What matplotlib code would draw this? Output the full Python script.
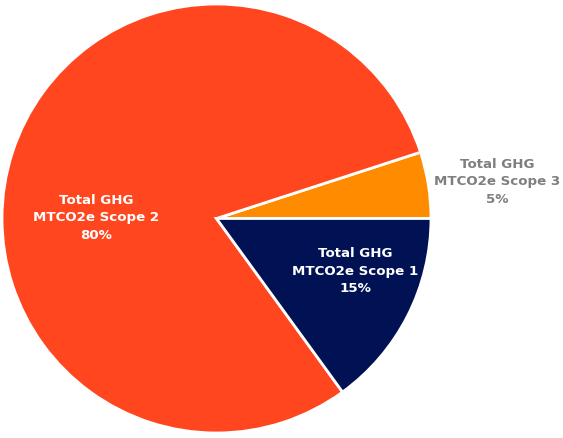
import matplotlib
matplotlib.use("Agg")
import matplotlib.pyplot as plt

categories = ["Total GHG\nMTCO2e Scope 3", "Total GHG\nMTCO2e Scope 2", "Total GHG\nMTCO2e Scope 1"]
values = [5, 80, 15]
colors = ["#FF8C00", "#FF461E", "#001253"]

fig = plt.figure(figsize=(5.63, 4.38), dpi=100)
ax = fig.add_axes([0, 0, 1, 1])
cx, cy, r = 216.5, 219.5, 214.5
wedges, _ = ax.pie(values, colors=colors, startangle=0, counterclock=True,
                   center=(cx, cy), radius=r,
                   wedgeprops=dict(edgecolor="white", linewidth=2))
ax.set_xlim(0, 563)
ax.set_ylim(0, 438)
ax.set_aspect("equal")
ax.axis("off")

total = sum(values)
label_pos = [(497, 438 - 182), (96, 438 - 218), (355, 438 - 271)]
label_col = ["#7F7F7F", "white", "white"]
for cat, v, (x, y), c in zip(categories, values, label_pos, label_col):
    ax.text(x, y, f"{cat}\n{round(100 * v / total)}%", ha="center", va="center",
            color=c, fontsize=9.6, fontweight="bold", family="DejaVu Sans",
            linespacing=1.45)

fig.savefig("out.png", dpi=100)
